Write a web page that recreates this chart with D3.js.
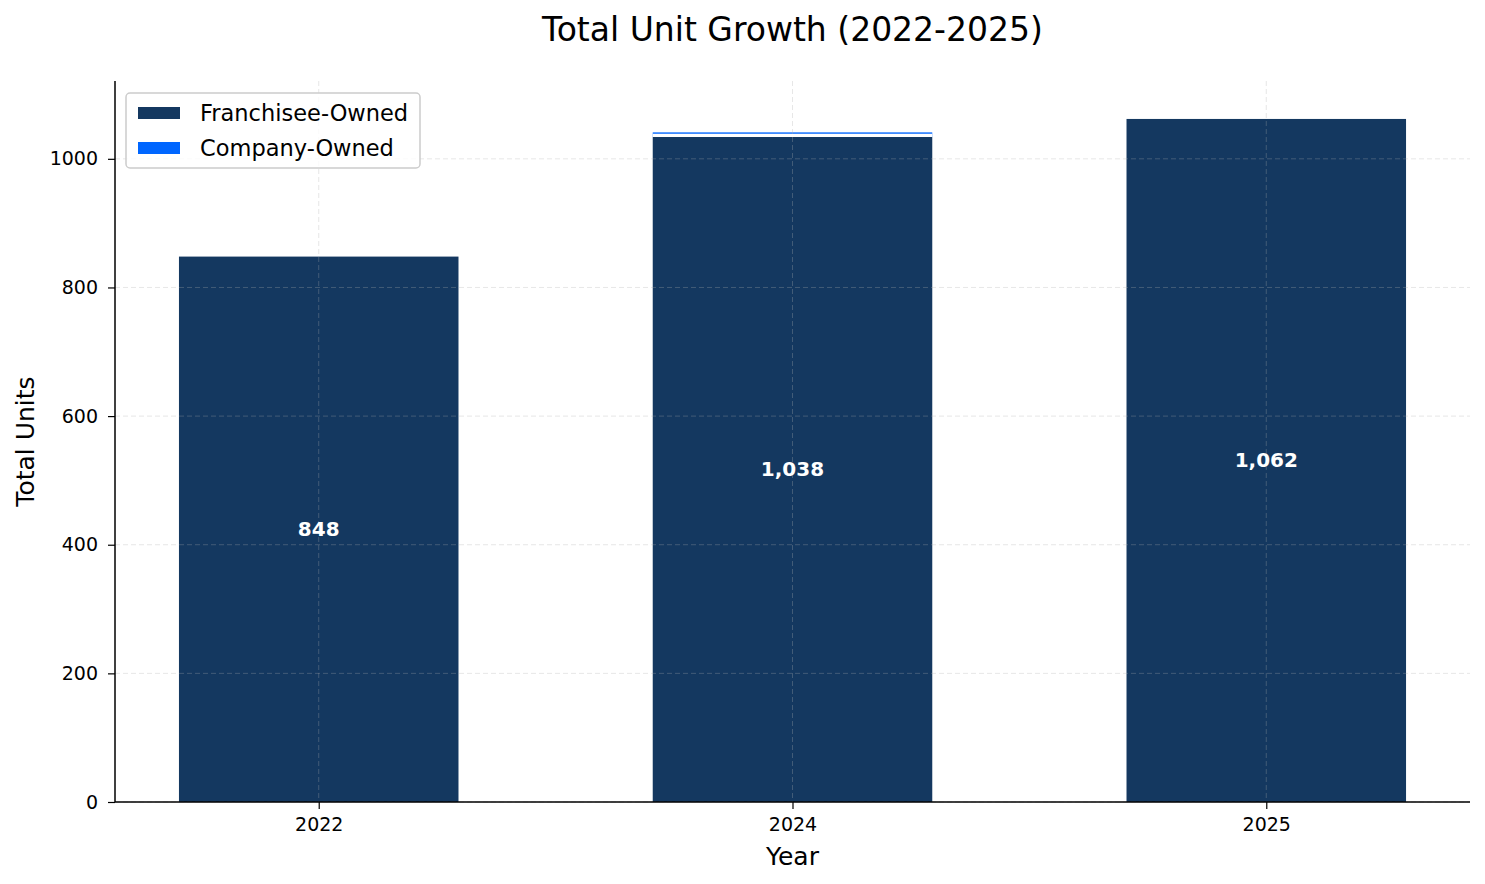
<!DOCTYPE html>
<html>
<head>
<meta charset="utf-8">
<script src="https://cdn.jsdelivr.net/npm/d3@7"></script>
<style>
  body { margin: 0; background: #fff; }
  svg { font-family: "DejaVu Sans", sans-serif; }
</style>
</head>
<body>
<div id="chart"></div>
<script>
// values
var years = ['2022', '2024', '2025'];
var franchisee = [848, 1034, 1062];
var company = [0, 4, 0];
var yTicks = [0, 200, 400, 600, 800, 1000];
var seriesNames = ['Franchisee-Owned', 'Company-Owned'];
var seriesColors = ['#143860', '#0066ff'];

var W = 1485, H = 884;
var m = { left: 115, right: 15, top: 81, bottom: 82 };
var w = W - m.left - m.right, h = H - m.top - m.bottom;

var svg = d3.select('#chart').append('svg')
	.attr('width', W).attr('height', H);

var g = svg.append('g').attr('transform', 'translate(' + m.left + ',' + m.top + ')');

var x = d3.scaleLinear().domain([-0.43, 2.43]).range([0, w]);
var y = d3.scaleLinear().domain([0, 1121]).range([h, 0]);
var barW = x(0.59) - x(0);

var data = years.map(function(yr, i) {
	return { year: yr, i: i, f: franchisee[i], c: company[i], total: franchisee[i] + company[i] };
});

// company bars stacked on top
g.selectAll('rect.c')
	.data(data.filter(function(d) { return d.c > 0; }))
	.enter()
	.append('rect')
	.attr('class', 'c')
	.attr('x', function(d) { return x(d.i) - barW / 2; })
	.attr('y', function(d) { return y(d.total) - 2; })
	.attr('width', barW)
	.attr('height', function(d) { return y(d.f) - y(d.total) + 2; })
	.attr('fill', seriesColors[1]);

// franchisee bars
g.selectAll('rect.f')
	.data(data)
	.enter()
	.append('rect')
	.attr('class', 'f')
	.attr('x', function(d) { return x(d.i) - barW / 2; })
	.attr('y', function(d) { return y(d.f); })
	.attr('width', barW)
	.attr('height', function(d) { return y(0) - y(d.f); })
	.attr('fill', seriesColors[0]);

// white edge between stacked segments
g.selectAll('line.sep')
	.data(data.filter(function(d) { return d.c > 0; }))
	.enter().append('line')
	.attr('x1', function(d) { return x(d.i) - barW / 2; })
	.attr('x2', function(d) { return x(d.i) + barW / 2; })
	.attr('y1', function(d) { return y(d.f) - 1.5; })
	.attr('y2', function(d) { return y(d.f) - 1.5; })
	.attr('stroke', '#fff').attr('stroke-width', 3.2);

// grid (drawn above bars, as in the reference)
var grid = g.append('g').attr('stroke', '#b0b0b0').attr('stroke-opacity', 0.3)
	.attr('stroke-dasharray', '5,3').attr('stroke-width', 1);
grid.selectAll('line.h')
	.data(yTicks)
	.enter().append('line')
	.attr('x1', 0).attr('x2', w)
	.attr('y1', function(d) { return y(d); })
	.attr('y2', function(d) { return y(d); });
grid.selectAll('line.v')
	.data(data)
	.enter().append('line')
	.attr('y1', 0).attr('y2', h)
	.attr('x1', function(d) { return x(d.i); })
	.attr('x2', function(d) { return x(d.i); });

// value labels
g.selectAll('text.val')
	.data(data)
	.enter().append('text')
	.attr('x', function(d) { return x(d.i); })
	.attr('y', function(d) { return y(d.f / 2); })
	.attr('dy', '0.35em')
	.attr('text-anchor', 'middle')
	.attr('fill', '#fff')
	.attr('font-weight', 'bold')
	.attr('font-size', '20px')
	.text(function(d) { return d3.format(',')(d.total); });

// axes
var yAxis = g.append('g')
	.call(d3.axisLeft(y).tickValues(yTicks).tickSize(7).tickPadding(10).tickFormat(d3.format('d')));
var xAxis = g.append('g').attr('transform', 'translate(0,' + h + ')')
	.call(d3.axisBottom(x).tickValues(data.map(function(d) { return d.i; }))
		.tickSize(7).tickPadding(9)
		.tickFormat(function(d) { return years[d]; }));
[yAxis, xAxis].forEach(function(a) {
	a.selectAll('text').attr('font-size', '19px').attr('font-family', 'DejaVu Sans').attr('fill', '#000');
	a.selectAll('line').attr('stroke', '#000').attr('stroke-width', 1.2);
	a.select('.domain').attr('stroke', '#000').attr('stroke-width', 1.5);
});
yAxis.select('.domain').attr('d', 'M0,' + h + 'V0');
xAxis.select('.domain').attr('d', 'M0,0H' + w);

// axis titles
svg.append('text')
	.attr('x', m.left + w / 2).attr('y', 865)
	.attr('text-anchor', 'middle').attr('font-size', '25px')
	.text('Year');
svg.append('text')
	.attr('transform', 'translate(34,' + (m.top + h / 2) + ') rotate(-90)')
	.attr('text-anchor', 'middle').attr('font-size', '25px')
	.text('Total Units');

svg.append('text')
	.attr('x', m.left + w / 2).attr('y', 41)
	.attr('text-anchor', 'middle').attr('font-size', '33px')
	.text('Total Unit Growth (2022-2025)');

// legend
var lg = svg.append('g').attr('transform', 'translate(126,93)');
lg.append('rect')
	.attr('width', 294).attr('height', 75).attr('rx', 4)
	.attr('fill', '#fff').attr('fill-opacity', 0.8)
	.attr('stroke', '#ccc').attr('stroke-width', 1.5);
var items = lg.selectAll('g.item')
	.data(seriesNames)
	.enter().append('g')
	.attr('transform', function(d, i) { return 'translate(12,' + (20 + i * 35) + ')'; });
items.append('rect')
	.attr('x', 0).attr('y', -6).attr('width', 42).attr('height', 12)
	.attr('fill', function(d, i) { return seriesColors[i]; });
items.append('text')
	.attr('x', 62).attr('dy', '0.35em')
	.attr('font-size', '22.5px')
	.text(function(d) { return d; });
</script>
</body>
</html>
